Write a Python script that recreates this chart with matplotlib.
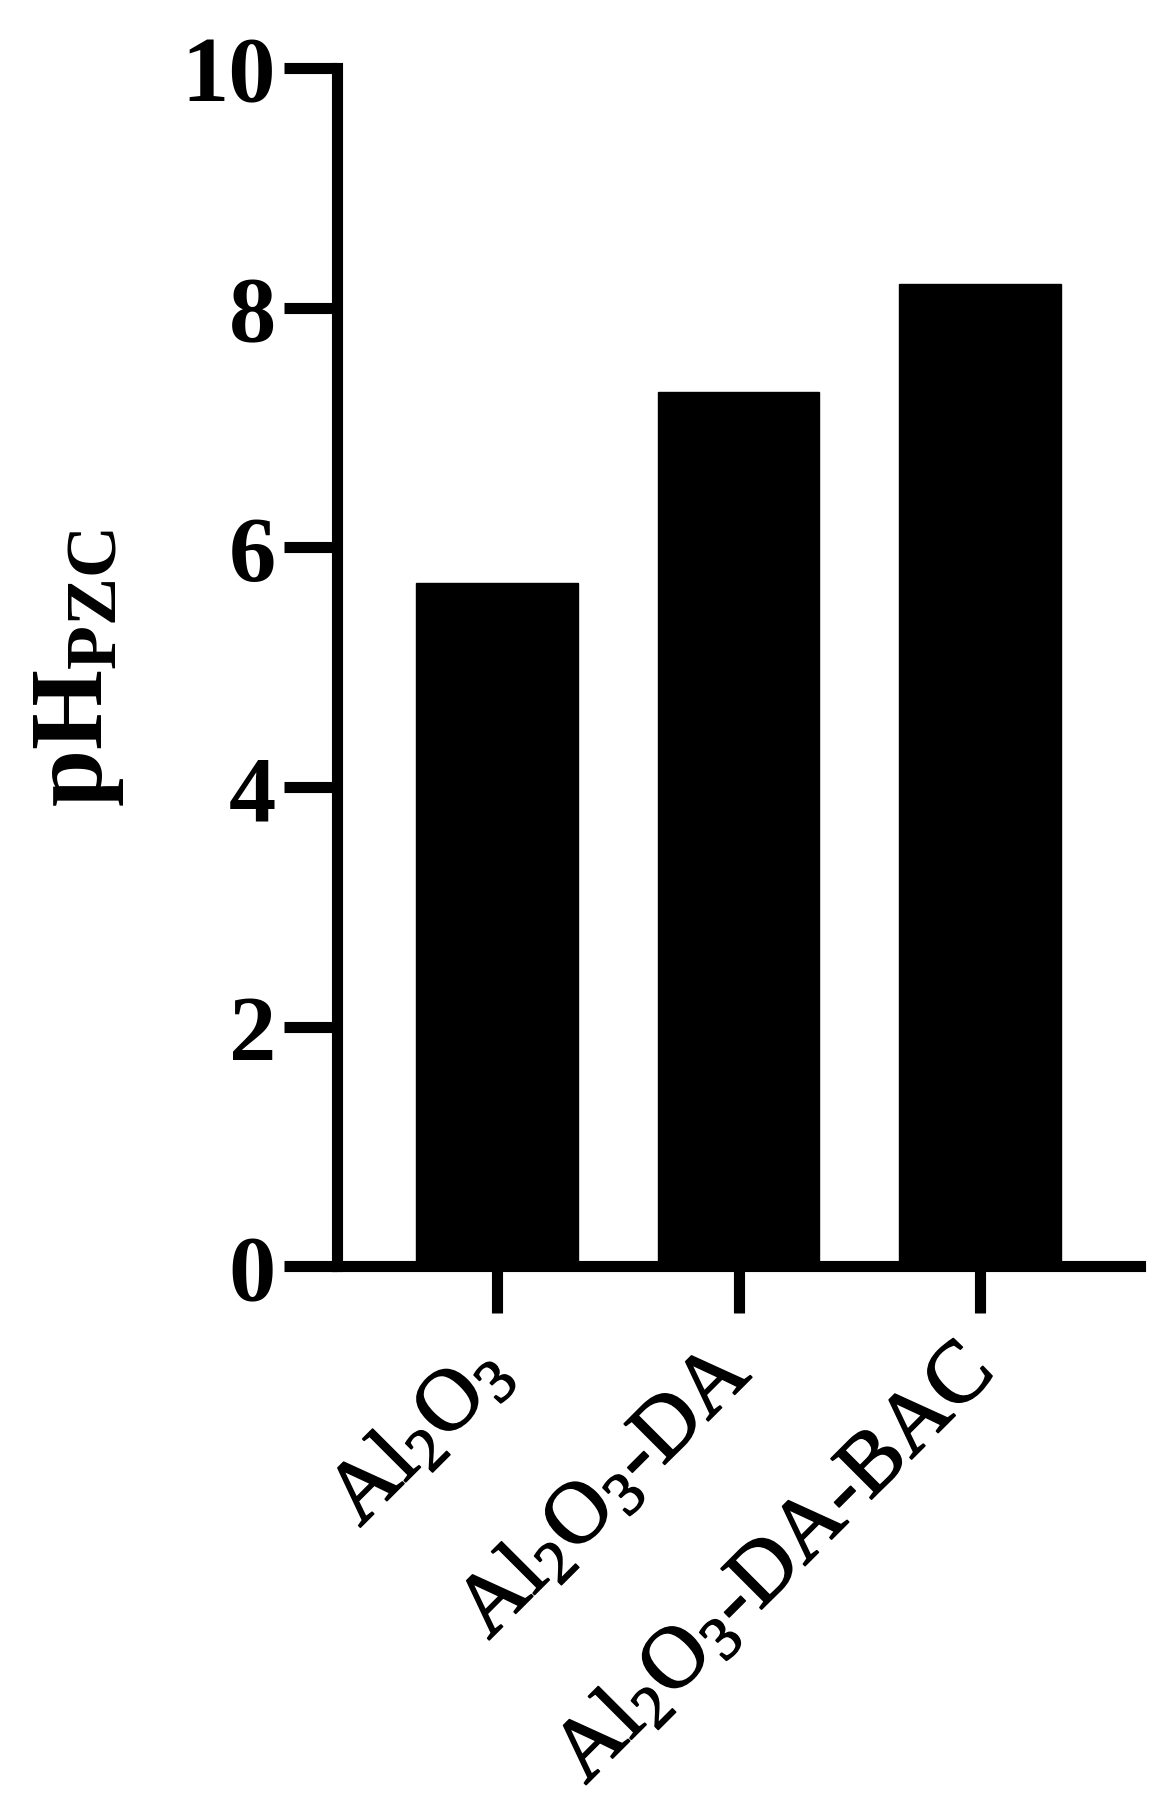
import matplotlib
matplotlib.use("Agg")
import matplotlib.pyplot as plt
import matplotlib.patheffects as pe

categories = [r"Al$_2$O$_3$", r"Al$_2$O$_3$-DA", r"Al$_2$O$_3$-DA-BAC"]
values = [5.7, 7.3, 8.2]
yticks = [0, 2, 4, 6, 8, 10]

plt.rcParams["font.family"] = ["Liberation Serif", "DejaVu Serif"]
plt.rcParams["mathtext.fontset"] = "custom"
plt.rcParams["mathtext.rm"] = "Liberation Serif"
plt.rcParams["mathtext.it"] = "Liberation Serif:italic"
plt.rcParams["mathtext.bf"] = "Liberation Serif:bold"

fig = plt.figure(figsize=(11.7, 18.06), dpi=100)
ax = fig.add_axes([0.288, 0.2982, 0.9744 - 0.288, 0.9618 - 0.2982])

x = list(range(len(categories)))
ax.bar(x, values, width=0.67, color="black", edgecolor="black", linewidth=1)

ax.set_xlim(-0.6625, 2.662)
ax.set_ylim(0, 10)

for s in ["top", "right"]:
    ax.spines[s].set_visible(False)
for s in ["left", "bottom"]:
    ax.spines[s].set_linewidth(8)

ax.set_yticks(yticks)
ax.set_yticklabels([str(t) for t in yticks], fontsize=68, fontweight="bold")
ax.tick_params(axis="y", length=38, width=8, pad=6)

ax.set_xticks(x)
labels = ax.set_xticklabels(categories, fontsize=63, rotation=45, ha="right",
                            va="center", rotation_mode="anchor")
for lab in labels:
    lab.set_path_effects([pe.withStroke(linewidth=1.2, foreground="black")])
ax.tick_params(axis="x", length=34, width=8, pad=34)

ax.set_ylabel(r"pH$_{\mathbf{PZC}}$", fontsize=74, fontweight="bold", labelpad=40)

fig.savefig("out.png", dpi=100, facecolor="white")
